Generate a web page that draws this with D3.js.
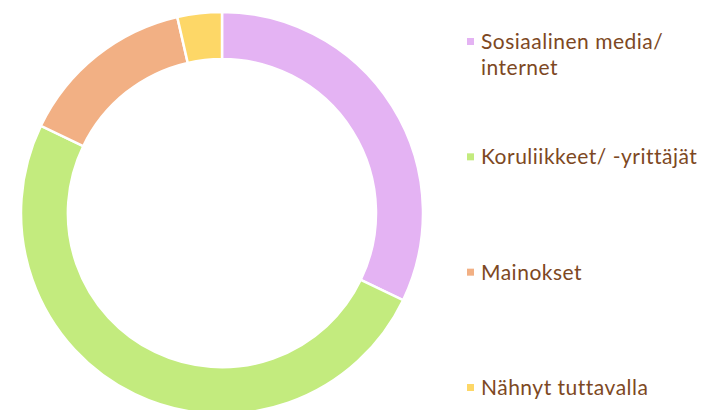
<!DOCTYPE html>
<html>
<head>
<meta charset="utf-8">
<script src="https://cdn.jsdelivr.net/npm/d3@7"></script>
<style>
  body { margin: 0; background: #fff; }
  svg text { font-family: "Century Gothic", "Lato", "DejaVu Sans", sans-serif; fill: #7d4823; letter-spacing: 0.5px; }
</style>
</head>
<body>
<svg width="703" height="410"></svg>
<script>
// answers (count of respondents)
var categories = ["Sosiaalinen media/ internet", "Koruliikkeet/ -yrittäjät", "Mainokset", "Nähnyt tuttavalla"]
var labelLines = [["Sosiaalinen media/", "internet"], ["Koruliikkeet/ -yrittäjät"], ["Mainokset"], ["Nähnyt tuttavalla"]]
var values = [9, 14, 4, 1]
var colors = ["#e4b3f3", "#c3eb7e", "#f2b084", "#fdd767"]

var svg = d3.select("svg")
var center = {x: 222, y: 213}
var outer = 201, inner = 154

var cScale = d3.scaleOrdinal().domain(categories).range(colors)

var pie = d3.pie().sort(null).value(function(d){ return d.value })
var arc = d3.arc().innerRadius(inner).outerRadius(outer)

var data = categories.map(function(c, i){ return {name: c, value: values[i], lines: labelLines[i]} })

svg.append("g")
    .attr("transform", "translate(" + center.x + "," + center.y + ")")
    .selectAll("path")
    .data(pie(data))
    .enter()
    .append("path")
    .attr("d", arc)
    .attr("fill", function(d){ return cScale(d.data.name) })
    .attr("stroke", "#fff")
    .attr("stroke-width", 2.5)

// legend
var yScale = d3.scalePoint().domain(categories).range([49, 395])

var items = svg.append("g").selectAll("g")
    .data(data)
    .enter()
    .append("g")
    .attr("transform", function(d){ return "translate(467," + yScale(d.name) + ")" })

items.append("rect")
    .attr("x", 0)
    .attr("y", -11)
    .attr("width", 7)
    .attr("height", 7)
    .attr("fill", function(d){ return cScale(d.name) })

items.append("text")
    .attr("x", 14)
    .attr("font-size", 21)
    .selectAll("tspan")
    .data(function(d){ return d.lines })
    .enter()
    .append("tspan")
    .attr("x", 14)
    .attr("dy", function(d, i){ return i == 0 ? 0 : 26 })
    .text(function(d){ return d })
</script>
</body>
</html>
